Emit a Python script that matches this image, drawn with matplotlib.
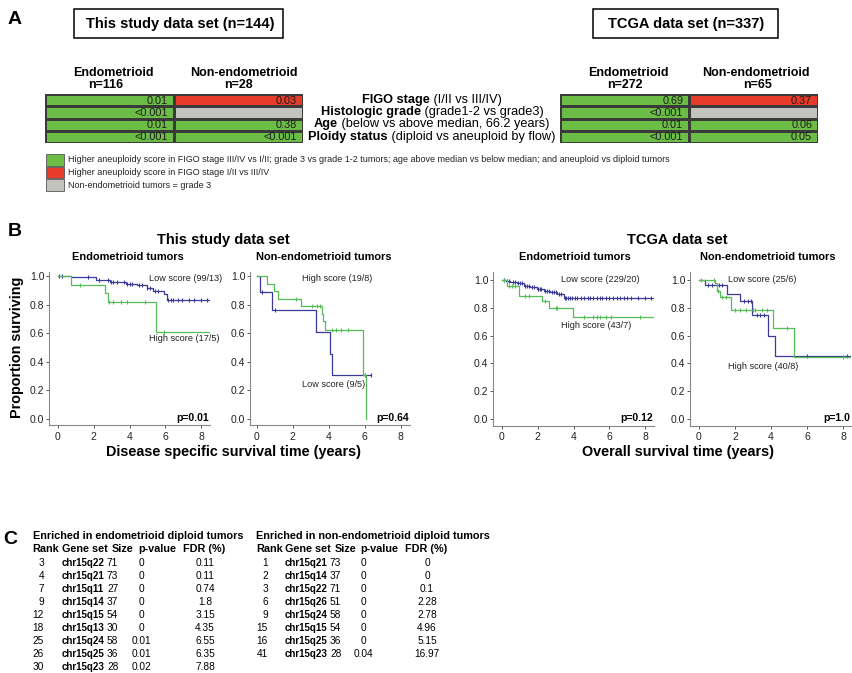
import numpy as np
import matplotlib
matplotlib.use('Agg')
import matplotlib.pyplot as plt
from matplotlib.colors import ListedColormap
from matplotlib.patches import Rectangle

plt.rcParams['font.family'] = ['Liberation Sans', 'DejaVu Sans']

W, H = 853, 673

# ---------------- Panel A data ----------------
variables = ['FIGO stage', 'Histologic grade', 'Age', 'Ploidy status']
variables_detail = [' (I/II vs III/IV)', ' (grade1-2 vs grade3)',
                    ' (below vs above median, 66.2 years)',
                    ' (diploid vs aneuploid by flow)']
study_endo_p = ['0.01', '<0.001', '0.01', '<0.001']
study_nonendo_p = ['0.03', '', '0.38', '<0.001']
tcga_endo_p = ['0.69', '<0.001', '0.01', '<0.001']
tcga_nonendo_p = ['0.37', '', '0.06', '0.05']
# 0 = green, 1 = red, 2 = gray
study_cat = [[0, 1], [0, 2], [0, 0], [0, 0]]
tcga_cat = [[0, 1], [0, 2], [0, 0], [0, 0]]
legend_labels = [
    'Higher aneuploidy score in FIGO stage III/IV vs I/II; grade 3 vs grade 1-2 tumors; '
    'age above median vs below median; and aneuploid vs diploid tumors',
    'Higher aneuploidy score in FIGO stage I/II vs III/IV',
    'Non-endometrioid tumors = grade 3']

# ---------------- Panel B data (Kaplan-Meier) ----------------
# This study, endometrioid
s_endo_low_t = [0, 0.75, 2.15, 2.9, 3.8, 4.4, 4.95, 5.3, 5.9, 6.07, 8.5]
s_endo_low_s = [1.0, 0.99, 0.975, 0.96, 0.945, 0.935, 0.915, 0.895, 0.875, 0.833, 0.833]
s_endo_low_c = [0.05, 0.2, 1.7, 2.3, 2.8, 2.95, 3.1, 3.3, 3.7, 3.85, 4.0, 4.15, 4.5, 4.7,
                5.0, 5.15, 5.4, 5.6, 6.15, 6.3, 6.45, 6.7, 6.9, 7.3, 7.6, 8.0, 8.3]
s_endo_high_t = [0, 0.75, 2.63, 2.8, 5.5, 8.5]
s_endo_high_s = [1.0, 0.94, 0.88, 0.82, 0.61, 0.61]
s_endo_high_c = [1.25, 2.85, 3.05, 3.5, 3.85, 4.85, 5.9]

# This study, non-endometrioid
s_non_low_t = [0, 0.2, 0.86, 3.29, 4.08, 4.17, 6.38]
s_non_low_s = [1.0, 0.889, 0.762, 0.61, 0.457, 0.305, 0.305]
s_non_low_c = [0.28, 1.0, 6.0, 6.38]
s_non_high_t = [0, 0.6, 0.96, 1.19, 2.48, 3.62, 3.72, 3.82, 5.92, 6.1]
s_non_high_s = [1.0, 0.947, 0.895, 0.842, 0.789, 0.737, 0.684, 0.62, 0.31, 0.0]
s_non_high_c = [2.19, 3.1, 3.35, 3.51, 4.17, 4.41, 4.69, 5.06, 6.0]

# TCGA, endometrioid
t_endo_low_t = [0, 0.2, 0.47, 0.84, 1.21, 1.58, 1.95, 2.33, 2.7, 3.07, 3.44, 8.5]
t_endo_low_s = [1.0, 0.995, 0.985, 0.975, 0.96, 0.947, 0.937, 0.923, 0.913, 0.9, 0.873, 0.873]
t_endo_low_c = [0.1, 0.3, 0.4, 0.6, 0.7, 0.9, 1.0, 1.1, 1.3, 1.4, 1.5, 1.7, 1.8, 2.0, 2.1,
                2.2, 2.4, 2.5, 2.6, 2.8, 2.9, 3.0, 3.2, 3.3, 3.5, 3.6, 3.7, 3.8, 3.9, 4.1,
                4.2, 4.4, 4.6, 4.8, 4.9, 5.1, 5.3, 5.5, 5.6, 5.8, 6.0, 6.2, 6.4, 6.6, 6.8,
                7.0, 7.2, 7.6, 8.0, 8.3]
t_endo_high_t = [0, 0.28, 0.93, 2.23, 2.6, 3.96, 8.5]
t_endo_high_s = [1.0, 0.954, 0.887, 0.846, 0.798, 0.733, 0.733]
t_endo_high_c = [0.1, 0.4, 0.55, 0.7, 1.3, 1.5, 2.4, 3.0, 3.1, 4.6, 5.1, 5.3, 5.5, 5.8, 6.1, 7.7]

# TCGA, non-endometrioid
t_non_low_t = [0, 0.32, 1.53, 2.27, 2.97, 3.85, 4.2, 8.5]
t_non_low_s = [1.0, 0.964, 0.9, 0.846, 0.745, 0.6, 0.45, 0.45]
t_non_low_c = [0.5, 0.7, 1.1, 1.3, 2.5, 2.7, 2.9, 3.2, 3.4, 3.6, 6.0, 8.2]
t_non_high_t = [0, 0.87, 1.0, 1.17, 1.8, 4.1, 5.3, 8.5]
t_non_high_s = [1.0, 0.978, 0.918, 0.88, 0.785, 0.653, 0.443, 0.443]
t_non_high_c = [0.1, 0.85, 1.05, 1.3, 1.5, 2.0, 2.3, 2.6, 3.0, 3.1, 3.5, 3.8, 4.9, 8.0]

# ---------------- Panel C data ----------------
endo_rank = [3, 4, 7, 9, 12, 18, 25, 26, 30]
endo_gene = ['chr15q22', 'chr15q21', 'chr15q11', 'chr15q14', 'chr15q15',
             'chr15q13', 'chr15q24', 'chr15q25', 'chr15q23']
endo_size = [71, 73, 27, 37, 54, 30, 58, 36, 28]
endo_pval = ['0', '0', '0', '0', '0', '0', '0.01', '0.01', '0.02']
endo_fdr = ['0.11', '0.11', '0.74', '1.8', '3.15', '4.35', '6.55', '6.35', '7.88']
non_rank = [1, 2, 3, 6, 9, 15, 16, 41]
non_gene = ['chr15q21', 'chr15q14', 'chr15q22', 'chr15q26', 'chr15q24',
            'chr15q15', 'chr15q25', 'chr15q23']
non_size = [73, 37, 71, 51, 58, 54, 36, 28]
non_pval = ['0', '0', '0', '0', '0', '0', '0', '0.04']
non_fdr = ['0', '0', '0.1', '2.28', '2.78', '4.96', '5.15', '16.97']

GREEN_CELL = '#6BBD45'
RED_CELL = '#E63A2A'
GRAY_CELL = '#C2C2BE'
BLUE_KM = '#3A3A9A'
GREEN_KM = '#55BD55'

fig = plt.figure(figsize=(W / 100, H / 100), dpi=100)


def fx(x):
    return x / W


def fy(y):
    return 1 - y / H


def axes_px(x0, y0, x1, y1):
    return fig.add_axes([fx(x0), fy(y1), (x1 - x0) / W, (y1 - y0) / H])


def box_px(x0, y0, x1, y1, **kw):
    fig.add_artist(Rectangle((fx(x0), fy(y1)), (x1 - x0) / W, (y1 - y0) / H,
                             transform=fig.transFigure, **kw))


# panel letters
for letra, (x, y) in zip('ABC', [(8, 20), (8, 231), (3, 539)]):
    fig.text(fx(x), fy(y), letra, fontsize=14, weight='bold', va='center')

# ---------------- Panel A ----------------
box_px(74, 9, 283, 38, fill=False, lw=1.1, ec='black')
box_px(593, 9, 778, 38, fill=False, lw=1.1, ec='black')
fig.text(fx(180), fy(24), 'This study data set (n=144)', ha='center', va='center',
         fontsize=10.5, weight='bold')
fig.text(fx(686), fy(24), 'TCGA data set (n=337)', ha='center', va='center',
         fontsize=10.5, weight='bold')

headers = [('Endometrioid', 113, 'n=116', 106), ('Non-endometrioid', 244, 'n=28', 238),
           ('Endometrioid', 628, 'n=272', 625), ('Non-endometrioid', 756, 'n=65', 758)]
for top, xt, bot, xb in headers:
    fig.text(fx(xt), fy(73), top, ha='center', va='center', fontsize=9, weight='bold')
    fig.text(fx(xb), fy(85.5), bot, ha='center', va='center', fontsize=9, weight='bold')

cmap_cells = ListedColormap([GREEN_CELL, RED_CELL, GRAY_CELL])
for (x0, x1), cats, pcols in [((45, 303), study_cat, (study_endo_p, study_nonendo_p)),
                              ((560, 818), tcga_cat, (tcga_endo_p, tcga_nonendo_p))]:
    ax = axes_px(x0, 94, x1, 143)
    ax.pcolormesh(np.arange(3), np.arange(5), np.array(cats), cmap=cmap_cells,
                  vmin=-0.5, vmax=2.5, edgecolors='#3a3a3a', linewidth=0.9)
    ax.set_xlim(0, 2)
    ax.set_ylim(4, 0)
    ax.axis('off')
    for j, col in enumerate(pcols):
        for i, val in enumerate(col):
            ax.text(j + 0.955, i + 0.55, val, ha='right', va='center', fontsize=7.8,
                    color='#1a1a1a')

# row labels: bold name + normal detail, centered at x=432
row_y = [100.5, 112.5, 124.5, 137]
label_pairs = []
for nombre, detalle, y in zip(variables, variables_detail, row_y):
    t1 = fig.text(0, fy(y), nombre, weight='bold', fontsize=9.2, va='center')
    t2 = fig.text(0, fy(y), detalle, fontsize=9.2, va='center')
    label_pairs.append((t1, t2))
fig.canvas.draw()
renderer = fig.canvas.get_renderer()
for t1, t2 in label_pairs:
    w1 = t1.get_window_extent(renderer).width
    w2 = t2.get_window_extent(renderer).width
    start = 432 - (w1 + w2) / 2
    t1.set_x(fx(start))
    t2.set_x(fx(start + w1))

# legend
for color, texto, (y0, y1) in zip([GREEN_CELL, RED_CELL, GRAY_CELL], legend_labels,
                                  [(154, 166), (167, 178.5), (179.5, 191)]):
    box_px(46, y0, 64, y1, fc=color, ec='#555555', lw=0.6)
    fig.text(fx(68), fy((y0 + y1) / 2), texto, fontsize=6.45, va='center', color='#222222')

# ---------------- Panel B ----------------
fig.text(fx(223), fy(240), 'This study data set', ha='center', va='center',
         fontsize=10.5, weight='bold')
fig.text(fx(677), fy(240), 'TCGA data set', ha='center', va='center',
         fontsize=10.5, weight='bold')
for x, texto in [(128, 'Endometrioid tumors'), (324, 'Non-endometrioid tumors'),
                 (575, 'Endometrioid tumors'), (768, 'Non-endometrioid tumors')]:
    fig.text(fx(x), fy(257), texto, ha='center', va='center', fontsize=7.9, weight='bold')

fig.text(fx(17), fy(347), 'Proportion surviving', rotation=90, ha='center', va='center',
         fontsize=10.4, weight='bold')
fig.text(fx(234), fy(452), 'Disease specific survival time (years)', ha='center',
         va='center', fontsize=10.4, weight='bold')
fig.text(fx(678), fy(452), 'Overall survival time (years)', ha='center',
         va='center', fontsize=10.4, weight='bold')


def km_panel(x_zero, x_scale, y_zero, y_scale, xlim, ylim, curvas, notas, pval):
    left = x_zero + xlim[0] * x_scale
    right = x_zero + xlim[1] * x_scale
    top = y_zero - ylim[1] * y_scale
    bottom = y_zero - ylim[0] * y_scale
    ax = axes_px(left, top, right, bottom)
    for t, s, c, color in curvas:
        t = np.array(t)
        s = np.array(s)
        ax.step(t, s, where='post', color=color, lw=0.9)
        idx = np.searchsorted(t, c, side='right') - 1
        ax.plot(c, s[idx], ls='none', marker='|', ms=3.4, mew=0.8, color=color)
    ax.set_xlim(xlim)
    ax.set_ylim(ylim)
    ax.set_xticks([0, 2, 4, 6, 8])
    ax.set_yticks([0, 0.2, 0.4, 0.6, 0.8, 1.0])
    ax.set_yticklabels(['0.0', '0.2', '0.4', '0.6', '0.8', '1.0'])
    for lado in ['top', 'right']:
        ax.spines[lado].set_visible(False)
    for lado in ['left', 'bottom']:
        ax.spines[lado].set_color('#888888')
        ax.spines[lado].set_linewidth(0.8)
    ax.tick_params(direction='out', length=2.5, width=0.7, color='#555555',
                   labelsize=7.5, labelcolor='#222222')
    ax.tick_params(axis='y', pad=0.8)
    ax.tick_params(axis='x', pad=2)
    for x, y, texto in notas:
        ax.text(x, y, texto, fontsize=6.6, va='center', color='#222222')
    ax.text(xlim[1] - 0.05, 0.01, pval, ha='right', va='center', fontsize=7.5,
            weight='bold')
    return ax


km_panel(58, 17.9, 419, 143, (-0.5, 8.5), (-0.045, 1.03),
         [(s_endo_low_t, s_endo_low_s, s_endo_low_c, BLUE_KM),
          (s_endo_high_t, s_endo_high_s, s_endo_high_c, GREEN_KM)],
         [(5.08, 0.986, 'Low score (99/13)'), (5.08, 0.56, 'High score (17/5)')], 'p=0.01')
km_panel(256.5, 18.0, 419, 143, (-0.37, 8.5), (-0.045, 1.03),
         [(s_non_low_t, s_non_low_s, s_non_low_c, BLUE_KM),
          (s_non_high_t, s_non_high_s, s_non_high_c, GREEN_KM)],
         [(2.5, 0.986, 'High score (19/8)'), (2.5, 0.238, 'Low score (9/5)')], 'p=0.64')
km_panel(502, 17.9, 419, 139, (-0.5, 8.5), (-0.048, 1.06),
         [(t_endo_low_t, t_endo_low_s, t_endo_low_c, BLUE_KM),
          (t_endo_high_t, t_endo_high_s, t_endo_high_c, GREEN_KM)],
         [(3.3, 1.007, 'Low score (229/20)'), (3.3, 0.67, 'High score (43/7)')], 'p=0.12')
km_panel(699, 18.0, 419, 139, (-0.5, 8.45), (-0.048, 1.06),
         [(t_non_low_t, t_non_low_s, t_non_low_c, BLUE_KM),
          (t_non_high_t, t_non_high_s, t_non_high_c, GREEN_KM)],
         [(1.6, 1.007, 'Low score (25/6)'), (1.6, 0.376, 'High score (40/8)')], 'p=1.0')


# ---------------- Panel C ----------------
def gsea_table(x_title, head_x, cols, ranks, genes, sizes, pvals, fdrs, titulo):
    # head_x: left of Rank, Gene set, Size, p-value and center of FDR (%)
    # cols: rank right edge, gene left, size left, pval center, fdr center
    x_rank, x_gene, x_size, x_p, x_fdr = cols
    fig.text(fx(x_title), fy(536), titulo, fontsize=7.8, weight='bold', va='center')
    for hx, texto in zip(head_x[:4], ['Rank', 'Gene set', 'Size', 'p-value']):
        fig.text(fx(hx), fy(549.5), texto, fontsize=7.8, weight='bold', va='center')
    fig.text(fx(head_x[4]), fy(549.5), 'FDR (%)', fontsize=7.8, weight='bold',
             va='center', ha='center')
    for i, (r, g, s, p, f) in enumerate(zip(ranks, genes, sizes, pvals, fdrs)):
        y = fy(563 + i * 13)
        fig.text(fx(x_rank), y, str(r), fontsize=7.3, ha='right', va='center')
        fig.text(fx(x_gene), y, g, fontsize=7, weight='bold', va='center')
        fig.text(fx(x_size), y, str(s), fontsize=7.3, va='center')
        fig.text(fx(x_p), y, p, fontsize=7.3, ha='center', va='center')
        fig.text(fx(x_fdr), y, f, fontsize=7.3, ha='center', va='center')


gsea_table(33, (32, 62, 112, 138, 204), (44, 62, 107, 141, 205),
           endo_rank, endo_gene, endo_size, endo_pval, endo_fdr,
           'Enriched in endometrioid diploid tumors')
gsea_table(256, (256, 285, 335, 360, 426), (268, 285, 330, 363, 427),
           non_rank, non_gene, non_size, non_pval, non_fdr,
           'Enriched in non-endometrioid diploid tumors')

fig.savefig('out.png', dpi=100)
